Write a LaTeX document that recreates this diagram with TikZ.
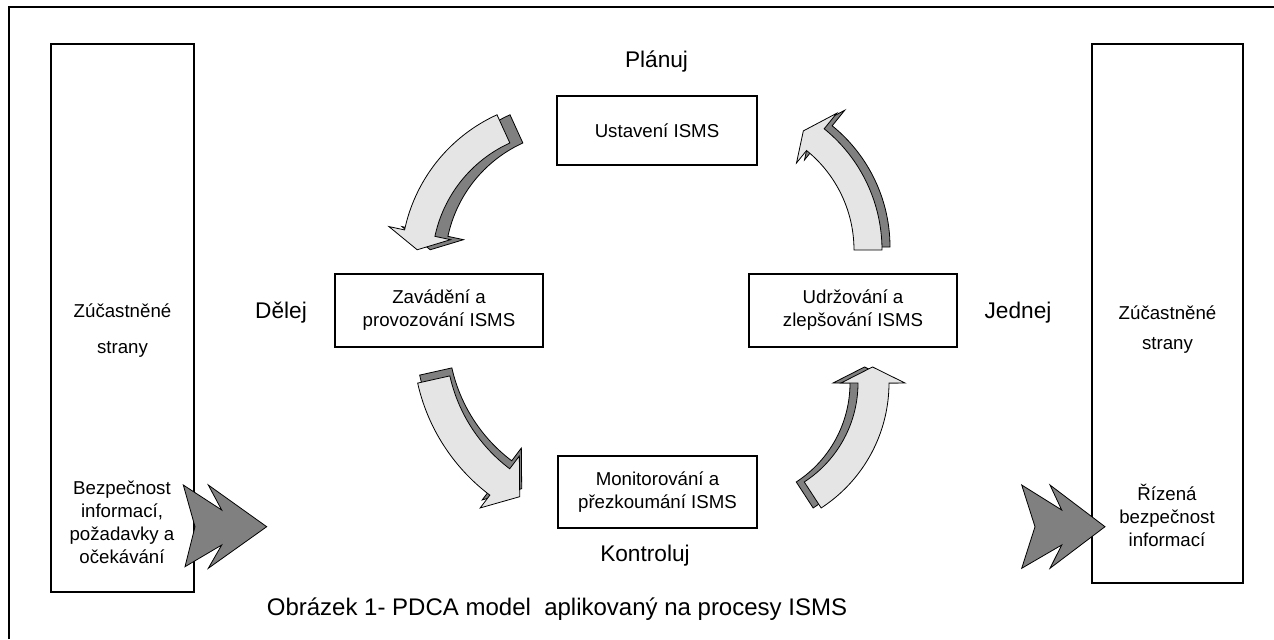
\documentclass[tikz,border=0pt]{standalone}
\usepackage{fontspec}
\setmainfont{Liberation Sans}
\begin{document}
\begin{tikzpicture}[x=0.75pt,y=-0.75pt,
  procbox/.style={draw=black,line width=1.1pt,fill=white,align=center,inner sep=0pt,
    font=\fontsize{14}{17.25}\selectfont},
  sidebox/.style={draw=black,line width=1.1pt,inner sep=0pt},
  boxtext/.style={align=center,inner sep=0pt,font=\fontsize{14}{17.25}\selectfont},
  phase/.style={inner sep=0pt,font=\fontsize{17}{20}\selectfont},
  lightarr/.style={fill=black!10,draw=black,line width=0.6pt},
  darkarr/.style={fill=black!50,draw=black,line width=0.6pt},
  chev/.style={fill=black!50,draw=black,line width=0.6pt}]
\newcommand\arcarrowpath[8]{(#3:#2) -- plot[domain=#3:#4,samples=40] (\x:#2) -- (#4:#8) -- (#5:#6) -- (#4:#7) -- (#4:#1) -- plot[domain=#4:#3,samples=40] (\x:#1) -- cycle}
\useasboundingbox (0,0) rectangle (1274,639);
\fill[white] (0,0) rectangle (1274,639);
% outer frame
\draw[line width=1.5pt] (9,639) -- (9,7) -- (1274,7);

% side boxes
\node[sidebox,minimum width=107.25pt,minimum height=411pt] (lbox) at (122.5,318) {};
\node[sidebox,minimum width=113.25pt,minimum height=404.25pt] (rbox) at (1167.5,313.5) {};
\node[boxtext,font=\fontsize{14}{27}\selectfont] (ltop) at (122.5,331) {Zúčastněné\\strany};
\node[boxtext,font=\fontsize{14}{22.5}\selectfont] (rtop) at (1167.5,330) {Zúčastněné\\strany};
\node[boxtext] (lbot) at (122,522.5) {Bezpečnost\\informací,\\požadavky a\\očekávání};
\node[boxtext] (rbot) at (1167,515) {Řízená\\bezpečnost\\informací};

% chevrons
\draw[chev] (183.3,485) -- (221.7,510) -- (208.3,485) -- (266.7,526.7) -- (208.3,568.3)
  -- (221.7,545) -- (185,566.7) -- (195,526.7) -- cycle;
\draw[chev] (1021.7,485) -- (1061.7,510) -- (1050,485) -- (1105,526.7) -- (1050,568.3)
  -- (1061.7,545) -- (1021.7,568.3) -- (1035,526.7) -- cycle;

% process boxes
\node[procbox,minimum width=150pt,minimum height=51.75pt] (ust) at (657,130.5) {Ustavení ISMS};
\node[procbox,minimum width=156pt,minimum height=54.75pt] (zav) at (439,310.5) {Zavádění a\\provozování ISMS};
\node[procbox,minimum width=156pt,minimum height=54.75pt] (udr) at (853,310.5) {Udržování a\\zlepšování ISMS};
\node[procbox,minimum width=149.25pt,minimum height=54pt] (mon) at (657.5,492) {Monitorování a\\přezkoumání ISMS};

% phase labels
\node[phase] (plan) at (656.5,62) {Plánuj};
\node[phase] (do) at (281,313) {Dělej};
\node[phase] (act) at (1018,313) {Jednej};
\node[phase] (check) at (645,556) {Kontroluj};
\node[phase,font=\fontsize{18}{21}\selectfont] (cap) at (557,609) {Obrázek 1- PDCA model\ \ aplikovaný na procesy ISMS};

% curved arrows: shadow then light
% P -> D
\begin{scope}[shift={(578,264)}]
  \draw[darkarr] \arcarrowpath{133}{164}{245.5}{192}{185.5}{148.5}{117}{180};
\end{scope}
\begin{scope}[shift={(565,264)}]
  \draw[lightarr] \arcarrowpath{133}{164}{245.5}{192}{185.5}{148.5}{117}{180};
\end{scope}
% A -> P
\begin{scope}[shift={(734,247)}]
  \draw[darkarr] \arcarrowpath{128}{156}{0}{-51}{-57}{142}{112}{176};
\end{scope}
\begin{scope}[shift={(726,250)}]
  \draw[lightarr] \arcarrowpath{128}{156}{0}{-51}{-57}{142}{112}{176};
\end{scope}
% D -> C
\begin{scope}[shift={(608,333)}]
  \draw[darkarr] \arcarrowpath{160}{193}{167.4}{127}{119}{178}{144}{209};
\end{scope}
\begin{scope}[shift={(606,341)}]
  \draw[lightarr] \arcarrowpath{160}{193}{167.4}{127}{119}{178}{144}{209};
\end{scope}
% C -> A
\begin{scope}[shift={(732,383)}]
  \draw[darkarr] \arcarrowpath{118}{149}{57}{0}{-6.9}{133.5}{101}{165};
\end{scope}
\begin{scope}[shift={(740,383)}]
  \draw[lightarr] \arcarrowpath{118}{149}{57}{0}{-6.9}{133.5}{101}{165};
\end{scope}
\end{tikzpicture}
\end{document}
